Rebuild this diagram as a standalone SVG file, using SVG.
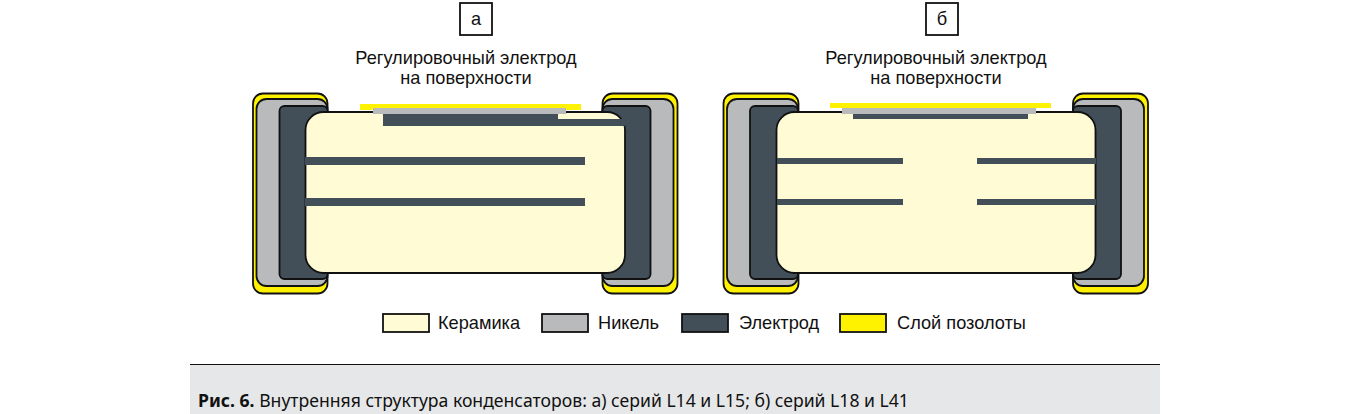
<svg xmlns="http://www.w3.org/2000/svg" width="1372" height="414" viewBox="0 0 1372 414">
<style>
text{font-family:"Liberation Sans",Arial,sans-serif;font-size:18.200px;fill:#111}
.c{text-anchor:middle}
.o{stroke:#111;stroke-width:1.8}
.y{fill:#fff200}.g{fill:#b9babc}.d{fill:#434f58}.k{fill:#fffbd4}
.cap{font-family:"Noto Sans",sans-serif;font-size:17.600px;fill:#111}
</style>
<rect width="1372" height="414" fill="#fff"/>
<g id="label-a"><rect x="460" y="3" width="32" height="32" fill="#fff" stroke="#111" stroke-width="1.8"/><text class="c" x="476" y="25">а</text></g>
<g id="label-b"><rect x="926" y="3" width="32" height="32" fill="#fff" stroke="#111" stroke-width="1.8"/><text class="c" x="942" y="25">б</text></g>
<g id="capacitor-a">
<text class="c" x="466" y="64">Регулировочный электрод</text>
<text class="c" x="466" y="84">на поверхности</text>
<rect class="y o" x="253" y="93.500" width="74.500" height="200" rx="10"/>
<rect class="g o" x="256.500" y="99" width="71" height="187" rx="10"/>
<rect class="d o" x="279.500" y="106" width="48" height="173" rx="5"/>
<rect class="y o" x="602.500" y="93.500" width="75" height="200" rx="10"/>
<rect class="g o" x="602.500" y="99" width="71" height="187" rx="10"/>
<rect class="d o" x="602.500" y="106" width="48" height="173" rx="5"/>
<rect class="k o" x="305.500" y="112" width="319.500" height="161" rx="18"/>
<rect class="y" x="360" y="104" width="221" height="6"/>
<rect class="g" x="373" y="108" width="193" height="6"/>
<rect class="d" x="383" y="114" width="175" height="12"/>
<rect class="d" x="558" y="119" width="67" height="7"/>
<rect class="d" x="305" y="157" width="280" height="8"/>
<rect class="d" x="305" y="198" width="280" height="8"/>
</g>
<g id="capacitor-b">
<text class="c" x="936" y="64">Регулировочный электрод</text>
<text class="c" x="936" y="84">на поверхности</text>
<rect class="y o" x="723.500" y="93.500" width="75" height="200" rx="10"/>
<rect class="g o" x="727" y="99" width="71" height="187" rx="10"/>
<rect class="d o" x="750" y="106" width="48" height="173" rx="5"/>
<rect class="y o" x="1073" y="93.500" width="75" height="200" rx="10"/>
<rect class="g o" x="1073" y="99" width="71" height="187" rx="10"/>
<rect class="d o" x="1073" y="106" width="48" height="173" rx="5"/>
<rect class="k o" x="776.500" y="112" width="319" height="161" rx="18"/>
<rect class="y" x="830" y="103" width="221" height="5"/>
<rect class="g" x="842" y="108" width="194" height="6"/>
<rect class="d" x="853" y="114" width="175" height="5"/>
<rect class="d" x="777" y="158" width="126" height="6"/>
<rect class="d" x="777" y="199" width="126" height="6"/>
<rect class="d" x="977" y="158" width="119" height="6"/>
<rect class="d" x="977" y="199" width="119" height="6"/>
</g>
<g id="legend">
<rect class="k o" x="383" y="314" width="46" height="18"/><text x="438" y="329">Керамика</text>
<rect class="g o" x="542" y="314" width="46" height="18"/><text x="598" y="329">Никель</text>
<rect class="d o" x="682" y="314" width="46" height="18"/><text x="739" y="329">Электрод</text>
<rect class="y o" x="840" y="314" width="46" height="18"/><text x="897" y="329">Слой позолоты</text>
</g>
<g id="caption">
<rect x="190" y="364" width="970" height="50" fill="#e6e7e8"/>
<rect x="190" y="364" width="970" height="1" fill="#111"/>
<text class="cap" x="198" y="407"><tspan font-weight="700">Рис. 6.</tspan> Внутренняя структура конденсаторов: а) серий L14 и L15; б) серий L18 и L41</text>
</g>
<g id="connectors"></g>
</svg>
